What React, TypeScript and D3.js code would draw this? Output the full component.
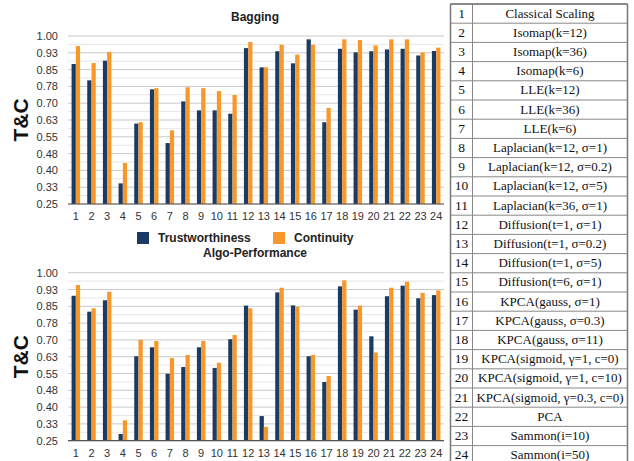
import React from "react";
import * as d3 from "d3";

const categories = Array.from({ length: 24 }, (_, i) => String(i + 1));
const seriesNames = ["Trustworthiness", "Continuity"];
const colors = ["#1b3a64", "#f7982c"];

const baggingTrust = [0.875, 0.802, 0.89, 0.342, 0.609, 0.762, 0.522, 0.708, 0.668, 0.668, 0.653, 0.946, 0.86, 0.932, 0.878, 0.985, 0.615, 0.943, 0.927, 0.932, 0.94, 0.943, 0.913, 0.933];
const baggingCont = [0.955, 0.879, 0.929, 0.433, 0.615, 0.767, 0.579, 0.771, 0.767, 0.754, 0.737, 0.973, 0.86, 0.961, 0.917, 0.961, 0.679, 0.985, 0.982, 0.958, 0.985, 0.985, 0.927, 0.948];
const algoTrust = [0.897, 0.826, 0.877, 0.28, 0.627, 0.667, 0.549, 0.579, 0.667, 0.575, 0.703, 0.853, 0.36, 0.912, 0.854, 0.627, 0.512, 0.939, 0.835, 0.716, 0.895, 0.942, 0.886, 0.9];
const algoCont = [0.945, 0.841, 0.915, 0.341, 0.7, 0.695, 0.619, 0.633, 0.695, 0.598, 0.722, 0.841, 0.312, 0.933, 0.848, 0.633, 0.539, 0.966, 0.853, 0.644, 0.933, 0.96, 0.91, 0.921];

const tickValues = [0.25, 0.325, 0.4, 0.475, 0.55, 0.625, 0.7, 0.775, 0.85, 0.925, 1.0];
const tickLabels = ["0.25", "0.33", "0.40", "0.48", "0.55", "0.63", "0.70", "0.78", "0.85", "0.93", "1.00"];

const methodNames = [
  "Classical Scaling", "Isomap(k=12)", "Isomap(k=36)", "Isomap(k=6)", "LLE(k=12)", "LLE(k=36)", "LLE(k=6)",
  "Laplacian(k=12, σ=1)", "Laplacian(k=12, σ=0.2)", "Laplacian(k=12, σ=5)", "Laplacian(k=36, σ=1)",
  "Diffusion(t=1, σ=1)", "Diffusion(t=1, σ=0.2)", "Diffusion(t=1, σ=5)", "Diffusion(t=6, σ=1)",
  "KPCA(gauss, σ=1)", "KPCA(gauss, σ=0.3)", "KPCA(gauss, σ=11)", "KPCA(sigmoid, γ=1, c=0)",
  "KPCA(sigmoid, γ=1, c=10)", "KPCA(sigmoid, γ=0.3, c=0)", "PCA", "Sammon(i=10)", "Sammon(i=50)",
];

const SANS = "'Liberation Sans', Arial, Helvetica, sans-serif";
const SERIF = "'Liberation Serif', 'Times New Roman', serif";

function BarChart({ top, title, titleY, trust, cont }: { top: number; title: string; titleY: number; trust: number[]; cont: number[] }) {
  const left = 68, right = 444, height = 168;
  const bottom = top + height;
  const x = d3.scaleBand<string>().domain(categories).range([left, right]).padding(0);
  const inner = d3.scaleBand<string>().domain(["T", "C"]).range([0, x.step()]).paddingInner(0).paddingOuter(0.84);
  const y = d3.scaleLinear().domain([0.25, 1]).range([bottom, top]);
  const minor = tickValues.slice(0, -1).map((v) => v + 0.0375);
  const series = [trust, cont];
  return (
    <g>
      <text x={255} y={titleY} textAnchor="middle" fontFamily={SANS} fontWeight="bold" fontSize={12} fill="#222">{title}</text>
      {minor.map((v, i) => (
        <line key={"m" + i} x1={left} x2={right} y1={y(v)} y2={y(v)} stroke="#e6e6e6" strokeWidth={1} />
      ))}
      {tickValues.map((v, i) => (
        <line key={"g" + i} x1={left} x2={right} y1={y(v)} y2={y(v)} stroke="#c9c9c9" strokeWidth={1} />
      ))}
      {tickValues.map((v, i) => (
        <text key={"t" + i} x={58} y={y(v) + 4} textAnchor="end" fontFamily={SANS} fontSize={11} fill="#333">{tickLabels[i]}</text>
      ))}
      {series.map((vals, si) =>
        vals.map((v, i) => (
          <rect key={si + "-" + i} x={(x(categories[i]) as number) + (inner(si === 0 ? "T" : "C") as number)} y={y(v)} width={inner.bandwidth()} height={bottom - y(v)} fill={colors[si]} />
        ))
      )}
      <line x1={left} x2={right} y1={bottom} y2={bottom} stroke="#555" strokeWidth={1.2} />
      {categories.map((c) => (
        <text key={"x" + c} x={(x(c) as number) + x.bandwidth() / 2} y={bottom + 16} textAnchor="middle" fontFamily={SANS} fontSize={11} fill="#333">{c}</text>
      ))}
      <text transform={`translate(28,${(top + bottom) / 2}) rotate(-90)`} textAnchor="middle" fontFamily={SANS} fontWeight="bold" fontSize={21} fill="#111">T&amp;C</text>
    </g>
  );
}

function Table() {
  const x0 = 450.5, xd = 472.5, x1 = 627.5, y0 = 4, rh = 19.2;
  const rows = d3.range(methodNames.length);
  return (
    <g>
      {rows.map((i) => (
        <g key={i}>
          <line x1={x0} x2={x1} y1={y0 + i * rh} y2={y0 + i * rh} stroke="#888" strokeWidth={1} />
          <text x={(x0 + xd) / 2} y={y0 + i * rh + 13.5} textAnchor="middle" fontFamily={SERIF} fontSize={13.5} fill="#111">{i + 1}</text>
          <text x={(xd + x1) / 2} y={y0 + i * rh + 13.5} textAnchor="middle" fontFamily={SERIF} fontSize={13} fill="#111">{methodNames[i]}</text>
        </g>
      ))}
      <line x1={x0} x2={x0} y1={y0} y2={470} stroke="#777" strokeWidth={1.5} />
      <line x1={xd} x2={xd} y1={y0} y2={470} stroke="#888" strokeWidth={1} />
      <line x1={x1} x2={x1} y1={y0} y2={470} stroke="#777" strokeWidth={1.5} />
      <line x1={x0} x2={x1} y1={y0} y2={y0} stroke="#777" strokeWidth={1.5} />
    </g>
  );
}

export default function App() {
  return (
    <svg width={634} height={461} style={{ position: "absolute", left: 0, top: 0, background: "#fff" }}>
      <rect width={634} height={461} fill="#fff" />
      <BarChart top={36} title="Bagging" titleY={21} trust={baggingTrust} cont={baggingCont} />
      <BarChart top={272.7} title="Algo-Performance" titleY={257} trust={algoTrust} cont={algoCont} />
      <g>
        <rect x={137} y={232} width={12} height={12} fill={colors[0]} />
        <text x={158} y={242} fontFamily={SANS} fontWeight="bold" fontSize={12} fill="#222">{seriesNames[0]}</text>
        <rect x={273} y={232} width={12} height={12} fill={colors[1]} />
        <text x={294} y={242} fontFamily={SANS} fontWeight="bold" fontSize={12} fill="#222">{seriesNames[1]}</text>
      </g>
      <Table />
    </svg>
  );
}
